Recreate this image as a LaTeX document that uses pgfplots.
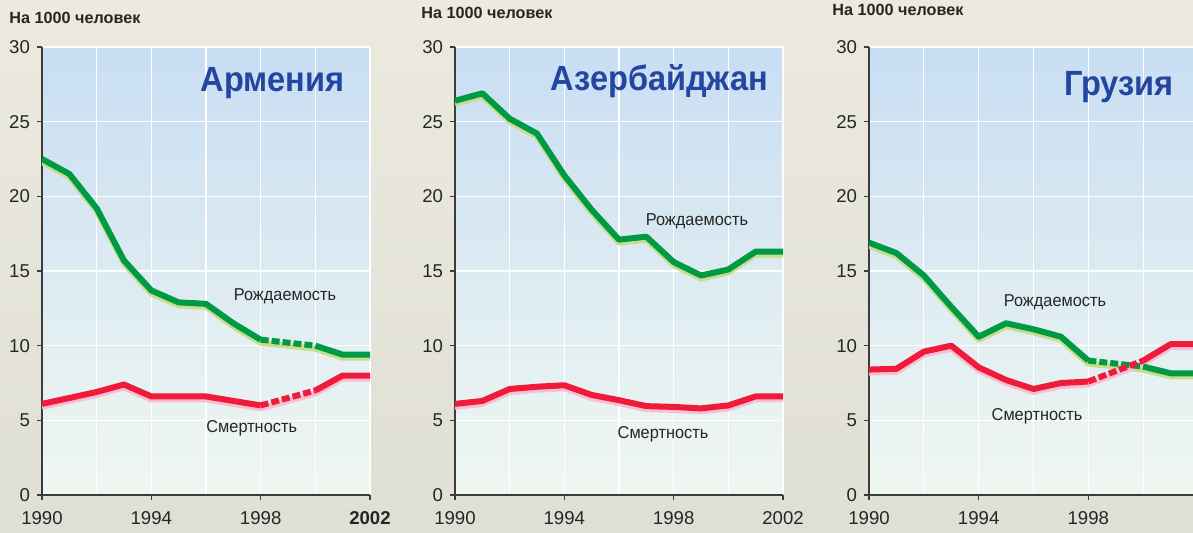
\documentclass[border=0pt]{standalone}
\usepackage{fontspec}
\setmainfont{Liberation Sans}
\usepackage{graphicx}
\usepackage{pgfplots}
\pgfplotsset{compat=1.18}
\usepackage{pgfplotstable}
\definecolor{bgTop}{HTML}{ECEADF}
\definecolor{bgBot}{HTML}{E0DFD5}
\definecolor{plotTop}{HTML}{C8DEF3}
\definecolor{plotBot}{HTML}{F0F7F1}
\definecolor{axisGray}{HTML}{3C3C3C}
\definecolor{greenMain}{HTML}{009A44}
\definecolor{greenShadow}{HTML}{C6DE8C}
\definecolor{redMain}{HTML}{EE1B3A}
\definecolor{redShadow}{HTML}{F8BED3}
\definecolor{titleBlue}{HTML}{2445A0}

% year, birth rate, death rate (per 1000)
\pgfplotstableread{
year birth death
1990 22.5 6.1
1991 21.5 6.5
1992 19.2 6.9
1993 15.7 7.4
1994 13.7 6.6
1995 12.9 6.6
1996 12.8 6.6
1997 11.5 6.3
1998 10.4 6.0
2000 10.0 7.0
2001 9.4  8.0
2002 9.4  8.0
}\armenia
\pgfplotstableread{
year birth death
1990 26.4 6.1
1991 26.9 6.3
1992 25.2 7.1
1993 24.2 7.25
1994 21.4 7.35
1995 19.1 6.7
1996 17.1 6.35
1997 17.3 5.95
1998 15.6 5.9
1999 14.7 5.8
2000 15.1 6.0
2001 16.3 6.6
2002 16.3 6.6
}\azerbaijan
\pgfplotstableread{
year birth death
1990 16.9 8.4
1991 16.2 8.45
1992 14.7 9.6
1993 12.6 10.0
1994 10.6 8.55
1995 11.5 7.7
1996 11.1 7.1
1997 10.6 7.5
1998 9.0  7.6
2000 8.6  9.0
2001 8.15 10.1
2002 8.15 10.1
}\georgia

\pgfplotsset{
  panel/.style={
    scale only axis, height=224pt, anchor=south west,
    xmin=1990, xmax=2002, ymin=0, ymax=30,
    axis x line*=bottom, axis y line*=left,
    axis line style={draw=axisGray, line width=0.8pt, -},
    xtick={1990,1994,1998,2002}, minor xtick={1992,1996,2000},
    ytick={0,5,...,30},
    xmajorgrids, xminorgrids, ymajorgrids,
    grid style={white, line width=0.6pt},
    minor grid style={white, line width=0.6pt},
    tick align=outside, major tick length=2.5pt, minor tick length=0pt,
    tick style={draw=axisGray, line width=0.6pt},
    ticklabel style={font=\fontsize{9.3}{11}\selectfont, text=black!85},
    xticklabel style={yshift=-2pt},
    /pgf/number format/assume math mode=true,
    /pgf/number format/1000 sep={},
    axis background/.style={top color=plotTop, bottom color=plotBot},
    no markers,
  },
  shade/.style={line width=3pt, line join=round, yshift=-1.5pt},
  main/.style={line width=3pt, line join=round},
  dash/.style={dash pattern=on 4pt off 1.5pt},
}
\newcommand{\lbl}[1]{\scalebox{0.95}[1]{\fontsize{8.6}{10}\selectfont #1}}
\newcommand{\unit}{\bfseries\fontsize{8.1}{9}\selectfont}
\newcommand{\ttl}[1]{\scalebox{0.93}[1]{\bfseries\fontsize{17.5}{20}\selectfont #1}}

\begin{document}
\begin{tikzpicture}
\useasboundingbox (0,0) rectangle (596.5pt,266pt);
\clip (0,0) rectangle (596.5pt,266pt);
\fill[top color=bgTop, bottom color=bgBot] (0,0) rectangle (596.5pt,266pt);

% Armenia
\begin{axis}[panel, at={(21pt,18.5pt)}, width=164pt,
  xticklabels={1990,1994,1998,\textbf{2002}}]
\addplot[shade, draw=greenShadow] table[x=year, y=birth] {\armenia};
\addplot[shade, draw=redShadow] table[x=year, y=death] {\armenia};
\addplot[main, draw=greenMain, restrict x to domain=1990:1998] table[x=year, y=birth] {\armenia};
\addplot[main, dash, draw=greenMain, restrict x to domain=1998:2000] table[x=year, y=birth] {\armenia};
\addplot[main, draw=greenMain, restrict x to domain=2000:2002] table[x=year, y=birth] {\armenia};
\addplot[main, draw=redMain, restrict x to domain=1990:1998] table[x=year, y=death] {\armenia};
\addplot[main, dash, draw=redMain, restrict x to domain=1998:2000] table[x=year, y=death] {\armenia};
\addplot[main, draw=redMain, restrict x to domain=2000:2002] table[x=year, y=death] {\armenia};
\end{axis}

% Azerbaijan
\begin{axis}[panel, at={(227.5pt,18.5pt)}, width=164pt]
\addplot[shade, draw=greenShadow] table[x=year, y=birth] {\azerbaijan};
\addplot[shade, draw=redShadow] table[x=year, y=death] {\azerbaijan};
\addplot[main, draw=greenMain] table[x=year, y=birth] {\azerbaijan};
\addplot[main, draw=redMain] table[x=year, y=death] {\azerbaijan};
\end{axis}

% Georgia (cut at the right edge, as in the source)
\begin{axis}[panel, at={(434.5pt,18.5pt)}, width=164.5pt,
  xticklabels={1990,1994,1998,{}}]
\addplot[shade, draw=greenShadow] table[x=year, y=birth] {\georgia};
\addplot[shade, draw=redShadow] table[x=year, y=death] {\georgia};
\addplot[main, draw=greenMain, restrict x to domain=1990:1998] table[x=year, y=birth] {\georgia};
\addplot[main, dash, draw=greenMain, restrict x to domain=1998:2000] table[x=year, y=birth] {\georgia};
\addplot[main, draw=greenMain, restrict x to domain=2000:2002] table[x=year, y=birth] {\georgia};
\addplot[main, draw=redMain, restrict x to domain=1990:1998] table[x=year, y=death] {\georgia};
\addplot[main, dash, draw=redMain, restrict x to domain=1998:2000] table[x=year, y=death] {\georgia};
\addplot[main, draw=redMain, restrict x to domain=2000:2002] table[x=year, y=death] {\georgia};
\end{axis}

% texts
\node[anchor=west, inner sep=0, text=black!85] at (4.5pt,257pt) {\unit На 1000 человек};
\node[anchor=west, inner sep=0, text=black!85] at (210.5pt,259.5pt) {\unit На 1000 человек};
\node[anchor=west, inner sep=0, text=black!85] at (416pt,261pt) {\unit На 1000 человек};

\node[anchor=base, inner sep=0, text=titleBlue] at (136.35pt,220.15pt) {\ttl{Армения}};
\node[anchor=base, inner sep=0, text=titleBlue] at (329.75pt,220.65pt) {\ttl{Азербайджан}};
\node[anchor=base, inner sep=0, text=titleBlue] at (559.5pt,218.5pt) {\ttl{Грузия}};

\node[anchor=base, inner sep=0, text=black!85] at (142.5pt,115.65pt) {\lbl{Рождаемость}};
\node[anchor=base, inner sep=0, text=black!85] at (125.85pt,49.65pt) {\lbl{Смертность}};
\node[anchor=base, inner sep=0, text=black!85] at (348.5pt,153.5pt) {\lbl{Рождаемость}};
\node[anchor=base, inner sep=0, text=black!85] at (331.5pt,47pt) {\lbl{Смертность}};
\node[anchor=base, inner sep=0, text=black!85] at (527.5pt,113pt) {\lbl{Рождаемость}};
\node[anchor=base, inner sep=0, text=black!85] at (518.5pt,55.65pt) {\lbl{Смертность}};
\end{tikzpicture}
\end{document}
